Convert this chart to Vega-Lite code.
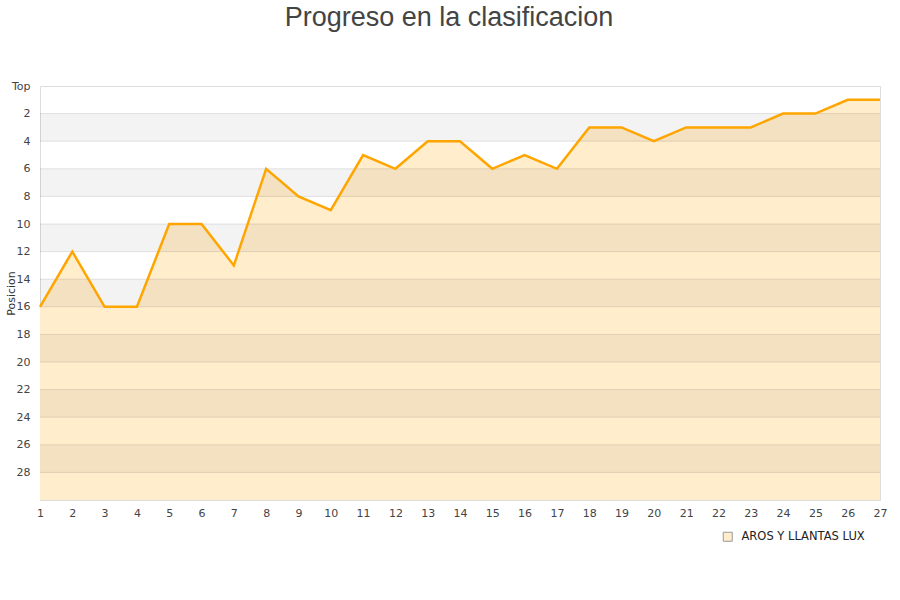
{
  "$schema": "https://vega.github.io/schema/vega-lite/v6.json",
  "autosize": "none",
  "width": 840,
  "height": 414,
  "padding": {"left": 40, "top": 86, "right": 20, "bottom": 100},
  "background": "white",
  "config": {
    "view": {"stroke": "#dddddd", "strokeWidth": 1},
    "axis": {"labelFont": "DejaVu Sans", "labelFontSize": 11, "labelColor": "#444444", "titleFont": "DejaVu Sans", "titleFontSize": 11, "titleFontWeight": "normal", "titleColor": "#333333", "labelOverlap": false, "labelSeparation": -100}
  },
  "title": {
    "text": "Progreso en la clasificacion",
    "font": "Liberation Sans",
    "fontSize": 27,
    "fontWeight": "normal",
    "color": "#444444",
    "anchor": "middle",
    "offset": 48,
    "dx": -11
  },
  "datasets": {
    "posiciones": [
      {"jornada": 1, "posicion": 16, "equipo": "AROS Y LLANTAS LUX"},
      {"jornada": 2, "posicion": 12, "equipo": "AROS Y LLANTAS LUX"},
      {"jornada": 3, "posicion": 16, "equipo": "AROS Y LLANTAS LUX"},
      {"jornada": 4, "posicion": 16, "equipo": "AROS Y LLANTAS LUX"},
      {"jornada": 5, "posicion": 10, "equipo": "AROS Y LLANTAS LUX"},
      {"jornada": 6, "posicion": 10, "equipo": "AROS Y LLANTAS LUX"},
      {"jornada": 7, "posicion": 13, "equipo": "AROS Y LLANTAS LUX"},
      {"jornada": 8, "posicion": 6, "equipo": "AROS Y LLANTAS LUX"},
      {"jornada": 9, "posicion": 8, "equipo": "AROS Y LLANTAS LUX"},
      {"jornada": 10, "posicion": 9, "equipo": "AROS Y LLANTAS LUX"},
      {"jornada": 11, "posicion": 5, "equipo": "AROS Y LLANTAS LUX"},
      {"jornada": 12, "posicion": 6, "equipo": "AROS Y LLANTAS LUX"},
      {"jornada": 13, "posicion": 4, "equipo": "AROS Y LLANTAS LUX"},
      {"jornada": 14, "posicion": 4, "equipo": "AROS Y LLANTAS LUX"},
      {"jornada": 15, "posicion": 6, "equipo": "AROS Y LLANTAS LUX"},
      {"jornada": 16, "posicion": 5, "equipo": "AROS Y LLANTAS LUX"},
      {"jornada": 17, "posicion": 6, "equipo": "AROS Y LLANTAS LUX"},
      {"jornada": 18, "posicion": 3, "equipo": "AROS Y LLANTAS LUX"},
      {"jornada": 19, "posicion": 3, "equipo": "AROS Y LLANTAS LUX"},
      {"jornada": 20, "posicion": 4, "equipo": "AROS Y LLANTAS LUX"},
      {"jornada": 21, "posicion": 3, "equipo": "AROS Y LLANTAS LUX"},
      {"jornada": 22, "posicion": 3, "equipo": "AROS Y LLANTAS LUX"},
      {"jornada": 23, "posicion": 3, "equipo": "AROS Y LLANTAS LUX"},
      {"jornada": 24, "posicion": 2, "equipo": "AROS Y LLANTAS LUX"},
      {"jornada": 25, "posicion": 2, "equipo": "AROS Y LLANTAS LUX"},
      {"jornada": 26, "posicion": 1, "equipo": "AROS Y LLANTAS LUX"},
      {"jornada": 27, "posicion": 1, "equipo": "AROS Y LLANTAS LUX"}
    ],
    "bandas": [
      {"desde": 2, "hasta": 4},
      {"desde": 6, "hasta": 8},
      {"desde": 10, "hasta": 12},
      {"desde": 14, "hasta": 16},
      {"desde": 18, "hasta": 20},
      {"desde": 22, "hasta": 24},
      {"desde": 26, "hasta": 28}
    ],
    "lineas": [
      {"nivel": 2}, {"nivel": 4}, {"nivel": 6}, {"nivel": 8}, {"nivel": 10},
      {"nivel": 12}, {"nivel": 14}, {"nivel": 16}, {"nivel": 18}, {"nivel": 20},
      {"nivel": 22}, {"nivel": 24}, {"nivel": 26}, {"nivel": 28}
    ]
  },
  "encoding": {
    "x": {"field": "jornada", "type": "quantitative", "scale": {"domain": [1, 27], "nice": false, "zero": false},
      "axis": {"values": [1, 2, 3, 4, 5, 6, 7, 8, 9, 10, 11, 12, 13, 14, 15, 16, 17, 18, 19, 20, 21, 22, 23, 24, 25, 26, 27], "labelOverlap": false, "labelSeparation": -100, "grid": false, "domain": false, "ticks": false, "labelPadding": 7, "title": null, "labelFlush": false}},
    "y": {"field": "posicion", "type": "quantitative", "scale": {"domain": [0, 30], "reverse": true, "nice": false, "zero": false},
      "axis": {"values": [0, 2, 4, 6, 8, 10, 12, 14, 16, 18, 20, 22, 24, 26, 28], "labelOverlap": false, "labelSeparation": -100, "labelExpr": "datum.value == 0 ? 'Top' : datum.label", "grid": false, "domain": false, "ticks": false, "labelPadding": 10, "title": "Posicion", "titleX": -29, "titleY": 207, "titleAngle": -90, "titleBaseline": "middle", "titleAlign": "center"}}
  },
  "layer": [
    {
      "data": {"name": "posiciones"},
      "mark": {"type": "area", "fillOpacity": 1, "strokeWidth": 0, "interpolate": "linear"},
      "encoding": {
        "y2": {"datum": 30},
        "fill": {"field": "equipo", "type": "nominal", "scale": {"range": ["#FFEDCC"]},
          "legend": {"orient": "none", "legendX": 682, "legendY": 445, "title": null, "symbolType": "square", "symbolSize": 81, "symbolStrokeColor": "#999999", "symbolStrokeWidth": 1, "labelFont": "DejaVu Sans", "labelFontSize": 11.5, "labelColor": "#222222", "labelOffset": 8}}
      }
    },
    {
      "data": {"name": "bandas"},
      "mark": {"type": "rect", "fill": "#000000", "fillOpacity": 0.047},
      "encoding": {
        "x": {"value": 0},
        "x2": {"value": "width"},
        "y": {"field": "desde", "type": "quantitative"},
        "y2": {"field": "hasta"}
      }
    },
    {
      "data": {"name": "lineas"},
      "mark": {"type": "rule", "stroke": "#000000", "strokeOpacity": 0.1, "strokeWidth": 1},
      "encoding": {
        "x": {"value": 0},
        "x2": {"value": "width"},
        "y": {"field": "nivel", "type": "quantitative"}
      }
    },
    {
      "data": {"name": "posiciones"},
      "mark": {"type": "line", "stroke": "#FFA500", "strokeWidth": 2.5},
      "encoding": {}
    }
  ]
}
